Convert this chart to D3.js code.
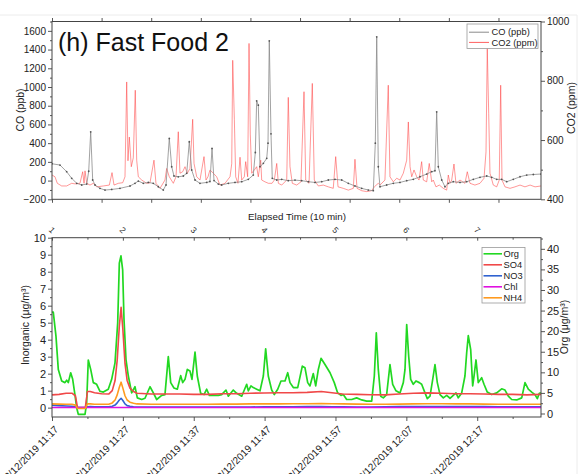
<!DOCTYPE html>
<html>
<head>
<meta charset="utf-8">
<script src="https://cdn.jsdelivr.net/npm/d3@7"></script>
<style>
  body { margin: 0; background: #fff; }
  svg { display: block; font-family: "Liberation Sans", Arial, sans-serif; }
</style>
</head>
<body>
<svg id="chart" width="588" height="474"></svg>
<script>
// ---------- Top panel: CO and CO2 (minutes since start, value) ----------
const coSeries = [[0,180],[1.13,166],[2.07,95],[2.78,24],[3.49,-29],[4.19,-47],[4.9,-37],[5.18,100],[5.46,521],[5.74,6],[6.07,-47],[6.77,-83],[7.48,-101],[8.42,-95],[9.59,-83],[11.01,-58],[11.71,-29],[12.18,-5],[12.88,-29],[13.59,-20],[14.29,-29],[15.0,-66],[15.7,-101],[16.09,-47],[16.55,451],[16.89,148],[17.21,49],[17.82,40],[18.53,49],[19.01,78],[19.37,415],[19.71,113],[20.18,6],[20.88,-29],[21.83,-20],[22.29,-10],[22.58,344],[22.86,0],[23.47,-37],[23.94,-47],[24.88,-29],[25.82,-20],[26.77,-12],[27.7,13],[28.4,59],[28.69,300],[28.88,852],[29.11,806],[29.35,148],[29.82,184],[30.3,238],[30.48,400],[30.66,1493],[30.9,500],[31.08,24],[31.71,6],[32.41,13],[33.34,-1],[34.29,5],[35.23,-1],[36.17,-12],[37.11,-20],[38.06,-12],[38.99,6],[39.93,13],[40.88,6],[41.81,-29],[42.75,-58],[43.7,-83],[44.63,-101],[45.34,-108],[45.62,400],[45.82,1536],[46.04,148],[46.28,-66],[47.22,-47],[48.16,-29],[49.1,-20],[50.05,-1],[50.98,13],[51.93,41],[52.87,70],[53.58,95],[54.04,105],[54.28,735],[54.51,148],[54.99,6],[55.45,-66],[55.92,-29],[56.62,-12],[57.57,-20],[58.51,-12],[59.45,13],[60.39,35],[61.34,49],[62.04,35],[62.75,13],[63.45,13],[64.16,-12],[65.09,13],[66.04,41],[66.98,59],[67.92,65],[69.0,70]];

const co2Series = [[0,482],[0.42,476],[0.75,454],[1.37,445],[2.07,445],[2.78,454],[3.25,452],[3.95,454],[4.33,493],[4.52,454],[4.66,496],[4.9,454],[5.36,448],[5.83,454],[6.3,442],[7.24,445],[8.09,448],[8.47,490],[8.75,448],[9.36,454],[9.98,456],[10.3,476],[10.54,796],[10.72,530],[10.91,610],[11.19,510],[11.47,540],[11.75,768],[11.95,532],[12.18,476],[12.66,465],[13.36,454],[13.83,456],[14.39,532],[14.67,454],[15.24,437],[15.94,465],[16.18,504],[16.55,476],[17.12,454],[17.5,476],[17.82,628],[18.06,488],[18.44,493],[18.77,510],[19.09,488],[19.47,504],[19.85,670],[20.04,521],[20.42,476],[20.88,465],[21.45,544],[21.73,465],[22.01,476],[22.29,499],[22.76,488],[23.24,476],[23.7,448],[24.41,454],[25.12,476],[25.36,520],[25.5,869],[25.73,670],[25.92,476],[26.24,454],[26.53,542],[26.77,465],[27.14,476],[27.33,527],[27.61,476],[27.8,926],[27.98,620],[28.18,488],[28.55,499],[28.88,510],[29.11,476],[29.45,532],[29.59,465],[30.05,459],[30.53,454],[31.05,454],[31.37,465],[31.71,521],[31.94,454],[32.41,448],[33.12,465],[33.34,744],[33.58,510],[33.91,454],[34.53,448],[35.13,459],[35.56,763],[35.8,465],[36.27,454],[36.73,791],[37.01,465],[37.58,445],[38.28,448],[38.99,442],[39.69,437],[40.03,544],[40.36,442],[41.1,437],[41.81,431],[42.52,437],[42.75,535],[43.04,437],[43.7,429],[44.4,426],[45.11,429],[45.48,442],[46.04,454],[46.28,448],[46.98,465],[47.45,785],[47.69,476],[48.16,459],[48.64,471],[49.1,465],[49.57,488],[50.05,532],[50.28,661],[50.52,510],[50.76,476],[51.08,499],[51.46,476],[51.79,465],[52.16,527],[52.39,465],[52.87,459],[53.23,521],[53.58,459],[53.8,465],[54.18,442],[54.65,448],[55.21,437],[55.69,431],[55.92,482],[56.16,454],[56.4,465],[56.72,519],[57.0,454],[57.57,465],[58.27,454],[58.6,493],[58.98,454],[59.68,448],[60.39,454],[60.96,471],[61.24,560],[61.42,910],[61.62,690],[61.8,488],[62.27,448],[62.75,442],[63.11,465],[63.31,785],[63.5,465],[63.92,442],[64.63,437],[65.33,442],[66.04,448],[66.74,442],[67.46,448],[68.16,442],[69.0,445]];

const coTicks = [-200, 0, 200, 400, 600, 800, 1000, 1200, 1400, 1600];
const co2Ticks = [400, 600, 800, 1000];
const topTimeTicks = [0, 7, 14, 21, 28, 35, 42, 49, 56, 63];

// ---------- Bottom panel: aerosol species ----------
const orgSeries = [[0,24.6],[0.18,24.6],[0.56,18.8],[0.89,10.7],[1.37,7.9],[1.83,7.5],[2.07,8.1],[2.3,7.5],[2.64,9.9],[2.92,8.3],[3.25,4.4],[3.48,1.4],[3.71,-0.2],[4.66,-0.2],[4.89,2.6],[5.12,13.0],[5.46,10.7],[5.83,7.5],[6.3,7.1],[6.77,5.4],[7.24,5.2],[7.94,5.9],[8.42,8.3],[8.89,12.3],[9.27,22.0],[9.5,36.5],[9.73,38.3],[9.97,34.9],[10.16,22.8],[10.44,13.1],[10.77,9.1],[11.24,5.0],[11.71,6.5],[12.04,3.8],[12.66,3.4],[13.12,3.7],[13.83,6.5],[14.3,5.0],[14.77,3.4],[15.48,4.4],[15.94,4.6],[16.41,13.8],[16.75,7.5],[17.21,6.2],[17.68,5.9],[18.16,9.2],[18.44,7.5],[18.77,8.3],[19.09,10.7],[19.47,10.3],[19.75,8.3],[20.18,14.9],[20.5,9.1],[20.98,4.9],[21.45,4.6],[21.83,5.9],[22.2,4.4],[23.47,4.4],[23.94,4.6],[24.55,5.7],[24.88,4.2],[25.58,5.7],[26.06,4.9],[26.77,4.2],[27.47,7.1],[27.7,5.5],[28.08,6.7],[28.4,6.3],[28.88,5.9],[29.35,5.5],[29.82,9.1],[30.15,15.7],[30.52,9.1],[31.0,5.7],[31.37,4.6],[31.85,5.9],[32.31,7.9],[32.88,7.9],[33.26,9.9],[33.58,7.5],[34.05,6.3],[34.67,6.3],[35.32,11.5],[35.7,11.1],[36.08,7.5],[36.4,6.7],[36.87,9.7],[37.21,6.7],[37.58,10.7],[37.96,13.4],[38.52,11.9],[39.23,9.9],[39.83,7.5],[40.31,5.0],[40.78,4.4],[41.1,4.6],[41.58,3.4],[42.29,3.4],[42.99,3.8],[43.7,3.3],[44.4,3.0],[45.11,3.0],[45.48,9.1],[45.76,19.6],[46.04,10.7],[46.38,4.2],[46.75,3.8],[47.22,4.6],[47.69,11.9],[48.07,7.1],[48.54,5.5],[49.1,5.0],[49.57,7.5],[49.81,10.7],[50.05,21.6],[50.33,13.9],[50.61,8.3],[50.98,7.1],[51.36,7.9],[51.83,7.5],[52.16,7.1],[52.63,5.0],[52.96,3.6],[53.34,4.2],[53.72,8.3],[54.04,11.9],[54.37,7.5],[54.75,4.6],[55.22,3.8],[55.69,4.4],[56.16,3.7],[56.62,4.4],[57.0,5.0],[57.33,3.8],[57.81,5.0],[58.27,9.1],[58.51,14.7],[58.74,18.9],[59.08,15.5],[59.36,6.7],[59.55,9.1],[59.83,13.0],[60.15,7.5],[60.63,8.7],[60.96,7.1],[61.42,5.2],[62.04,4.6],[62.75,5.0],[63.45,6.0],[63.92,5.7],[64.39,4.2],[64.86,3.4],[65.57,3.3],[66.28,3.8],[66.74,7.5],[67.21,5.9],[67.69,5.2],[68.15,4.6],[68.48,3.6],[68.76,4.9],[69.0,5.0]];

const inorgMinutes = [0,1,2,2.8,3.3,3.6,4.7,5.0,5.4,6,7,8,8.5,8.9,9.2,9.5,9.75,10.0,10.3,10.6,11,11.5,12,14,16,18,20,22,24,26,28,30,32,34,36,38,39.5,41,43,45,47,49,51,53,55,57,59,61,63,65,67,69];
const so4 = [0.75,0.78,0.85,0.85,0.7, 0.0,0.0,0.95,0.95,0.88, 0.82,0.8,1.0,1.6,2.8, 4.8,5.9,4.6,2.6,1.6, 1.15,0.95,0.85,0.8,0.8, 0.8,0.78,0.78,0.82,0.82, 0.85,0.86,0.88,0.88,0.9, 0.95,0.88,0.8,0.78,0.76, 0.75,0.8,0.85,0.87,0.85, 0.82,0.82,0.8,0.78,0.78, 0.75,0.78];
const no3 = [0.15,0.12,0.1,0.08,0.05, 0.0,0.0,0.05,0.06,0.05, 0.05,0.05,0.08,0.15,0.28, 0.45,0.55,0.42,0.22,0.12, 0.08,0.05,0.04,0.03,0.03, 0.03,0.03,0.03,0.04,0.04, 0.04,0.05,0.05,0.05,0.06, 0.06,0.05,0.05,0.04,0.04, 0.05,0.06,0.07,0.07,0.06, 0.06,0.07,0.06,0.05,0.05, 0.05,0.05];
const chl = [0.01,0.01,0.01,0.01,0.01, 0.0,0.0,0.01,0.01,0.01, 0.01,0.01,0.01,0.01,0.01, 0.01,0.01,0.01,0.01,0.01, 0.01,0.01,0.01,0.01,0.01, 0.01,0.01,0.01,0.01,0.01, 0.01,0.01,0.01,0.01,0.01, 0.01,0.01,0.01,0.01,0.01, 0.01,0.01,0.01,0.01,0.01, 0.01,0.01,0.01,0.01,0.01, 0.01,0.01];
const nh4 = [0.22,0.21,0.2,0.2,0.15, -0.05,-0.05,0.22,0.22,0.2, 0.2,0.2,0.28,0.45,0.75, 1.2,1.5,1.15,0.7,0.45, 0.32,0.26,0.22,0.2,0.2, 0.2,0.2,0.2,0.21,0.21, 0.22,0.22,0.22,0.23,0.23, 0.24,0.23,0.22,0.21,0.2, 0.2,0.21,0.22,0.23,0.23, 0.22,0.22,0.21,0.2,0.2, 0.2,0.2];

const inorgTicks = [0,1,2,3,4,5,6,7,8,9,10];
const orgTicks = [0,5,10,15,20,25,30,35,40];
const clockTicks = [0,10,20,30,40,50,60];
const clockLabels = ["12/12/2019 11:17","12/12/2019 11:27","12/12/2019 11:37","12/12/2019 11:47","12/12/2019 11:57","12/12/2019 12:07","12/12/2019 12:17"];
const elapsedLabels = ["1","2","3","4","5","6","7"];

const speciesNames = ["Org","SO4","NO3","Chl","NH4"];
const speciesColors = ["#22d822","#f04848","#2f62d0","#e010e0","#ff9a1f"];

// ---------- drawing ----------
const svg = d3.select("#chart");
const L = 52, R = 541;
const TOP = {y0: 21.5, y1: 199.3};
const BOT = {y0: 237.7, y1: 417};
const AX = "#444";

// faint page edge
svg.append("line").attr("x1",0).attr("x2",577).attr("y1",15).attr("y2",15).attr("stroke","#ececec");
svg.append("line").attr("x1",577).attr("x2",577).attr("y1",15).attr("y2",474).attr("stroke","#ececec");

function styleAxis(g, fontSize) {
  g.select(".domain").remove();
  g.selectAll(".tick line").attr("stroke", AX).attr("stroke-width", 0.9);
  g.selectAll(".tick text").attr("fill", "#222").attr("font-size", fontSize)
    .attr("font-family", "'Liberation Sans', Arial, sans-serif");
}
// mk() returns a fresh d3 axis generator bound to the right scale
function addAxis(mk, tr, major, minor, fmt, fontSize, size, minorSize) {
  if (minor.length) {
    const gMin = svg.append("g").attr("transform", tr)
      .call(mk().tickValues(minor).tickSize(minorSize).tickFormat(""));
    styleAxis(gMin, fontSize);
  }
  const g = svg.append("g").attr("transform", tr)
    .call(mk().tickValues(major).tickSize(size).tickPadding(2).tickFormat(fmt));
  styleAxis(g, fontSize);
  return g;
}
function range(a, b, s) { const r = []; for (let v = a; v <= b + 1e-9; v += s) r.push(+v.toFixed(3)); return r; }
const noLabel = () => "";

// scales
const xTop = d3.scaleLinear().domain([0, 69]).range([L, R]);
const yCO = d3.scaleLinear().domain([-200, 1700]).range([TOP.y1, TOP.y0]);
const yCO2 = d3.scaleLinear().domain([400, 1000]).range([TOP.y1, TOP.y0]);
const xBot = d3.scaleLinear().domain([0, 69]).range([L, R]);
const yInorg = d3.scaleLinear().domain([-0.55, 10]).range([BOT.y1, BOT.y0]);
const yOrg = d3.scaleLinear().domain([-0.85, 42.7]).range([BOT.y1, BOT.y0]);

// clip paths
const defs = svg.append("defs");
defs.append("clipPath").attr("id","clipTop").append("rect")
  .attr("x",L).attr("y",TOP.y0).attr("width",R-L).attr("height",TOP.y1-TOP.y0);
defs.append("clipPath").attr("id","clipBot").append("rect")
  .attr("x",L).attr("y",BOT.y0).attr("width",R-L).attr("height",BOT.y1-BOT.y0);

// ---- top panel series ----
const gTop = svg.append("g").attr("clip-path","url(#clipTop)");
gTop.append("path").datum(co2Series)
  .attr("d", d3.line().x(d => xTop(d[0])).y(d => yCO2(d[1])))
  .attr("fill","none").attr("stroke","#ff4040").attr("stroke-opacity",0.6).attr("stroke-width",0.9);
gTop.append("path").datum(coSeries)
  .attr("d", d3.line().x(d => xTop(d[0])).y(d => yCO(d[1])))
  .attr("fill","none").attr("stroke","#8a8a8a").attr("stroke-width",0.8);
gTop.selectAll("circle.co").data(coSeries).join("circle").attr("class","co")
  .attr("cx", d => xTop(d[0])).attr("cy", d => yCO(d[1])).attr("r",0.9)
  .attr("fill","#3a3a3a").attr("fill-opacity",0.8);

// top panel frame and axes
svg.append("rect").attr("x",L).attr("y",TOP.y0).attr("width",R-L).attr("height",TOP.y1-TOP.y0)
  .attr("fill","none").attr("stroke",AX).attr("stroke-width",1);
addAxis(() => d3.axisLeft(yCO), `translate(${L},0)`, coTicks, range(-100,1700,200), d3.format("d"), 10, 4, 2);
addAxis(() => d3.axisRight(yCO2), `translate(${R},0)`, co2Ticks, [500,700,900], d3.format("d"), 10, 4, 2);
addAxis(() => d3.axisBottom(xTop), `translate(0,${TOP.y1})`, topTimeTicks, [], noLabel, 10, 3.5, 0);
addAxis(() => d3.axisTop(xTop), `translate(0,${TOP.y0})`, topTimeTicks, [], noLabel, 10, 3.5, 0);

svg.append("text").attr("x",58).attr("y",50.5).attr("font-size",25).attr("fill","#111")
  .text("(h) Fast Food 2");
svg.append("text").attr("transform","translate(24,110) rotate(-90)").attr("text-anchor","middle")
  .attr("font-size",10.5).attr("fill","#222").text("CO (ppb)");
svg.append("text").attr("transform","translate(575,108) rotate(-90)").attr("text-anchor","middle")
  .attr("font-size",10.5).attr("fill","#222").text("CO2 (ppm)");
svg.append("text").attr("x",297).attr("y",220).attr("text-anchor","middle")
  .attr("font-size",9.8).attr("fill","#222").text("Elapsed Time (10 min)");

// top legend
const lgTop = svg.append("g");
lgTop.append("rect").attr("x",467).attr("y",24).attr("width",71).attr("height",24.5)
  .attr("fill","#fff").attr("stroke","#999").attr("stroke-width",0.8);
[["CO (ppb)","#8a8a8a",32.2],["CO2 (ppm)","#ff6060",42.4]].forEach(([name,col,yy]) => {
  lgTop.append("line").attr("x1",469).attr("x2",489).attr("y1",yy).attr("y2",yy)
    .attr("stroke",col).attr("stroke-width",1);
  lgTop.append("text").attr("x",491.5).attr("y",yy).attr("dy","0.35em")
    .attr("font-size",9.3).attr("fill","#222").text(name);
});

// ---- bottom panel series ----
const gBot = svg.append("g").attr("clip-path","url(#clipBot)");
const inorgLine = vals => d3.line().x((d,i) => xBot(inorgMinutes[i])).y(d => yInorg(d))(vals);
gBot.append("path").datum(orgSeries)
  .attr("d", d3.line().x(d => xBot(d[0])).y(d => yOrg(d[1])))
  .attr("fill","none").attr("stroke",speciesColors[0]).attr("stroke-width",1.7).attr("stroke-linejoin","round");
[so4, no3, chl, nh4].forEach((vals, k) => {
  gBot.append("path").attr("d", inorgLine(vals))
    .attr("fill","none").attr("stroke",speciesColors[k+1]).attr("stroke-width",1.6).attr("stroke-linejoin","round");
});

svg.append("rect").attr("x",L).attr("y",BOT.y0).attr("width",R-L).attr("height",BOT.y1-BOT.y0)
  .attr("fill","none").attr("stroke",AX).attr("stroke-width",1);
addAxis(() => d3.axisLeft(yInorg), `translate(${L},0)`, inorgTicks, range(0.5,9.5,1), d3.format("d"), 11, 4, 2);
addAxis(() => d3.axisRight(yOrg), `translate(${R},0)`, orgTicks, range(2.5,42.5,5), d3.format("d"), 11, 4, 2);
addAxis(() => d3.axisBottom(xBot), `translate(0,${BOT.y1})`, clockTicks, range(5,65,10), noLabel, 10, 4, 2);
addAxis(() => d3.axisBottom(xBot), `translate(0,${BOT.y0})`, clockTicks, range(5,65,10), noLabel, 10, 3, 2);

// rotated clock labels under the bottom axis
svg.append("g").selectAll("text").data(clockTicks).join("text")
  .attr("transform", (d) => `translate(${xBot(d)+7},430) rotate(-45)`)
  .attr("text-anchor","end").attr("font-size",10).attr("fill","#222")
  .text((d,i) => clockLabels[i]);
// elapsed-time labels above the bottom panel
svg.append("g").selectAll("text").data(clockTicks).join("text")
  .attr("transform", (d) => `translate(${xBot(d)},230) rotate(45)`)
  .attr("text-anchor","middle").attr("dy","0.35em").attr("font-size",8.5).attr("fill","#333")
  .text((d,i) => elapsedLabels[i]);

svg.append("text").attr("transform","translate(29,325) rotate(-90)").attr("text-anchor","middle")
  .attr("font-size",10.5).attr("fill","#222").text("Inorganic (μg/m³)");
svg.append("text").attr("transform","translate(567.5,327) rotate(-90)").attr("text-anchor","middle")
  .attr("font-size",10.5).attr("fill","#222").text("Org (μg/m³)");

// bottom legend
const lgBot = svg.append("g");
lgBot.append("rect").attr("x",482).attr("y",247.5).attr("width",43).attr("height",55.5)
  .attr("fill","#fff").attr("stroke","#999").attr("stroke-width",0.8);
speciesNames.forEach((name, i) => {
  const yy = 253.8 + i * 11;
  lgBot.append("line").attr("x1",483.5).attr("x2",502).attr("y1",yy).attr("y2",yy)
    .attr("stroke",speciesColors[i]).attr("stroke-width",1.6);
  lgBot.append("text").attr("x",503.5).attr("y",yy).attr("dy","0.35em")
    .attr("font-size",9.3).attr("fill","#222").text(name);
});
</script>
</body>
</html>
